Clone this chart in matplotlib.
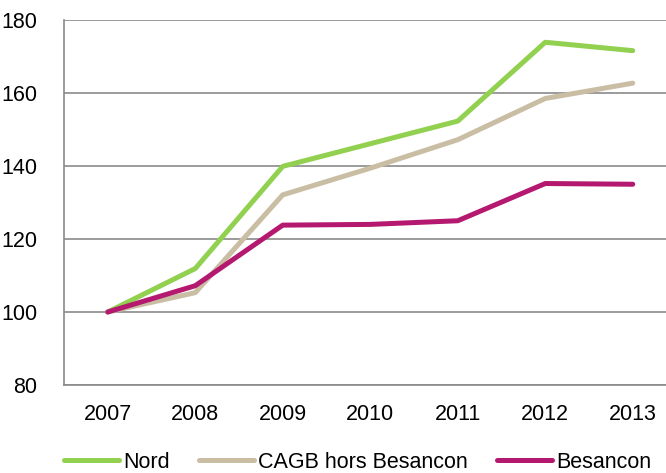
import matplotlib
matplotlib.use("Agg")
import matplotlib.pyplot as plt

years = [2007, 2008, 2009, 2010, 2011, 2012, 2013]
nord = [100, 111.9, 139.9, 146.1, 152.3, 173.9, 171.6]
cagb = [100, 105.3, 132.1, 139.4, 147.2, 158.5, 162.7]
besancon = [100, 107.2, 123.8, 124.0, 125.0, 135.2, 135.0]

plt.rcParams['font.family'] = ['Liberation Sans', 'DejaVu Sans']

fig = plt.figure(figsize=(6.66, 4.73), dpi=100)
ax = fig.add_axes([64 / 666, 1 - 385 / 473, 612.5 / 666, 365 / 473])

ax.plot(years, nord, color="#92D050", lw=3.6, label="Nord", solid_capstyle="round")
ax.plot(years, cagb, color="#C9BDA3", lw=3.6, label="CAGB hors Besancon", solid_capstyle="round")
ax.plot(years, besancon, color="#B5186F", lw=3.6, label="Besancon", solid_capstyle="round")

ax.set_xlim(2006.5, 2013.5)
ax.set_ylim(80, 180)
ax.set_yticks([80, 100, 120, 140, 160, 180])
ax.set_xticks(years)
ax.grid(axis="y", color="#8a8a8a", lw=1.2)
ax.set_axisbelow(True)
for s in ["top", "right"]:
    ax.spines[s].set_visible(False)
for s in ["left", "bottom"]:
    ax.spines[s].set_color("#8a8a8a")
    ax.spines[s].set_linewidth(1.2)
ax.tick_params(length=0, labelsize=15.5, pad=14)
ax.tick_params(axis="y", pad=19)

fig.legend(loc="lower center", bbox_to_anchor=(0.537, -0.036), ncol=3, frameon=False,
           fontsize=15.5, handlelength=2.55, columnspacing=1.35, handletextpad=0.2,
           borderpad=0.3)

fig.savefig("out.png", dpi=100)
